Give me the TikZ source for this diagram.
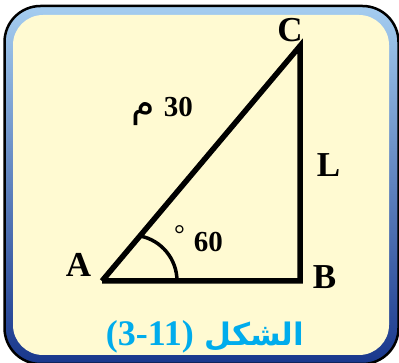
\documentclass[tikz,border=0pt]{standalone}
\usepackage{fontspec}
\usetikzlibrary{calc}
\setmainfont{Liberation Serif}
\newfontfamily\arabicfont[Script=Arabic]{DejaVu Sans}
\TeXXeTstate=1
\definecolor{cream}{RGB}{255,250,210}
\definecolor{bandtop}{RGB}{165,205,240}
\definecolor{bandbot}{RGB}{25,55,140}
\definecolor{capcyan}{RGB}{0,172,236}
\begin{document}
\begin{tikzpicture}[x=1pt,y=1pt,
  lbl/.style={inner sep=0pt,font=\fontsize{35}{35}\selectfont\bfseries},
  num/.style={inner sep=0pt,font=\fontsize{29}{29}\selectfont\bfseries},
  side/.style={line width=5.5pt,line join=miter},
  anglearc/.style={line width=3.5pt}]
\clip (0,0) rectangle (399,363);
% frame
\fill[top color=bandtop,bottom color=bandbot,rounded corners=36pt] (4.5,-1) rectangle (398.5,357);
\draw[line width=2.5pt,rounded corners=36pt] (4.5,-1) rectangle (398.5,357);
\fill[cream,rounded corners=30pt] (13,8) rectangle (389,348);
% triangle
\coordinate (A) at (102,82);
\coordinate (B) at (300,82);
\coordinate (C) at (300,317);
\draw[side] (A) -- (C) -- (B) -- (A);
% angle arc
\coordinate (O) at (131.1,82);
\draw[anglearc] ($(O)+(78.8:45.9)$) arc[start angle=78.8,end angle=0,radius=45.9];
% labels
\node[lbl] (lA) at (78.5,98) {A};
\node[lbl] (lB) at (324.5,86) {B};
\node[lbl] (lC) at (290,333) {C};
\node[lbl] (lL) at (328.5,197.5) {L};
\node[num,anchor=base east] (hyp) at (193,246) {\arabicfont\beginR\beginL{\rmfamily 30}\endL\hspace{9pt}{\fontsize{38}{38}\selectfont\mdseries م}\endR};
\node[num,anchor=base east] (ang) at (223,111) {\raisebox{8pt}{\fontsize{27}{27}\selectfont\mdseries °}\hspace{9pt}60};
\node[inner sep=0pt,anchor=base,text=capcyan,font=\fontsize{31}{31}\selectfont\bfseries] (cap) at (205,17)
  {\arabicfont\beginR الشكل \beginL{\rmfamily\fontsize{36}{36}\selectfont (3-11)}\endL\endR};
\end{tikzpicture}
\end{document}
